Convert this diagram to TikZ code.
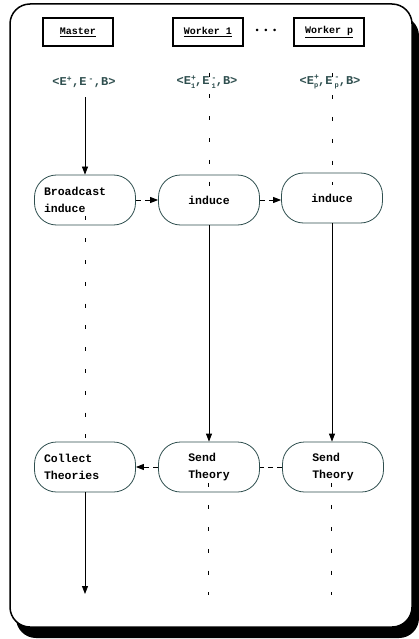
\documentclass[tikz,border=0pt]{standalone}
\usepackage{fontspec}
\newfontfamily\cour{Liberation Mono}
\usetikzlibrary{arrows.meta}
\definecolor{slate}{HTML}{2F4F4F}
\newcommand\supsub[2]{\rlap{\textsuperscript{#1}}\raisebox{-0.5ex}{\scriptsize #2}}
\begin{document}
\begin{tikzpicture}[x=1pt,y=-1pt,
  font=\cour\bfseries,
  >={Triangle[length=8pt,width=6pt]},
  head/.style={draw, line width=2.2pt, minimum width=70pt, minimum height=28pt, font=\cour\bfseries\fontsize{10}{11}\selectfont},
  tuple/.style={text=slate, font=\cour\bfseries\fontsize{12}{13}\selectfont},
  task/.style={draw=slate, thick, rounded corners=22pt, minimum width=101pt, minimum height=50pt, align=left, font=\cour\bfseries\fontsize{11.5}{17}\selectfont},
  vdash/.style={line width=1pt, dash pattern=on 4pt off 17.8pt},
  hdash/.style={line width=1pt, dash pattern=on 5pt off 4pt}]
\useasboundingbox (0,0) rectangle (419,639);
\fill[rounded corners=20pt] (16,16) rectangle (419,638);
\draw[line width=1.5pt, fill=white, rounded corners=20pt] (10,4) rectangle (412,627);

\node[head] (master) at (78,32) {\underline{Master}};
\node[head] (w1) at (208,32) {\underline{Worker 1}};
\node[head] (wp) at (329,32) {\underline{Worker p}};
\node[font=\fontsize{9}{10}\selectfont] (dots) at (266,31) {\textbullet\,\textbullet\,\textbullet};

\node[tuple] (t0) at (84,82) {<E\textsuperscript{+},E\,\textsuperscript{-},B>};
\node[tuple] (t1) at (207,82) {<E\supsub{+}{1},E\,\supsub{-}{1},B>};
\node[tuple] (tp) at (330,82) {<E\supsub{+}{p},E\,\supsub{-}{p},B>};

\node[task, text width=82pt] (bc) at (85,200) {Broadcast\\induce};
\node[task] (i1) at (209,200) {induce};
\node[task] (ip) at (332,198) {induce};
\node[task, text width=82pt] (col) at (85,467) {Collect\\Theories};
\node[task] (s1) at (209,467) {Send\\Theory};
\node[task] (sp) at (333,467) {Send\\Theory};

\coordinate (e0) at (85,594);
\coordinate (e1) at (208,595);
\coordinate (ep) at (331,595);

\draw[->, thick] (t0.south -| bc.north) ++(0,6) -- (bc.north);
\draw[vdash] ([yshift=19pt]t1.south -| i1.north) -- ([yshift=-14pt]i1.north);
\draw[vdash] ([yshift=19pt]tp.south -| ip.north) -- ([yshift=-12pt]ip.north);

\draw[hdash, ->] (bc) -- (i1);
\draw[hdash, ->] (i1.east) -- (ip.west |- i1.east);

\draw[->, thick] (i1) -- (s1);
\draw[->, thick] (ip) -- (ip |- sp.north);
\draw[vdash] ([yshift=9pt]bc.south) -- (col.north);

\draw[hdash] (sp) -- (s1);
\draw[hdash, ->] (s1) -- (col);

\draw[->, thick] (col) -- (e0);
\draw[vdash] ([yshift=9pt]s1.south -| e1) -- (e1);
\draw[vdash] ([yshift=9pt]sp.south -| ep) -- (ep);
\end{tikzpicture}
\end{document}
